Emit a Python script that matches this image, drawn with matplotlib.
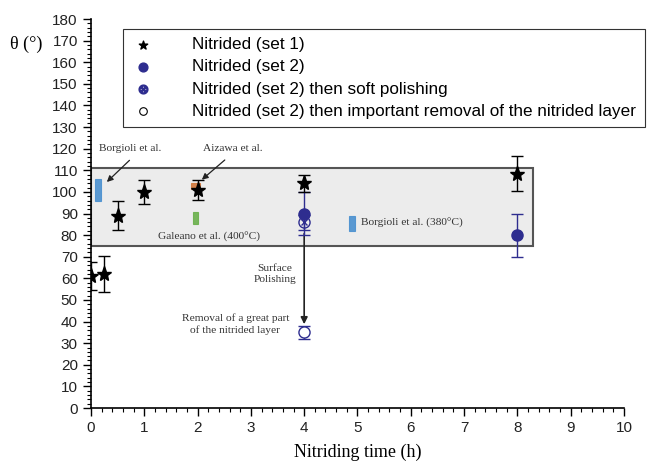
import matplotlib
matplotlib.use("Agg")
import matplotlib.pyplot as plt
from matplotlib.patches import Rectangle
from matplotlib.ticker import MultipleLocator

# nitrided set 1 (stars)
t_set1 = [0, 0.25, 0.5, 1, 2, 4, 8]
theta_set1 = [61, 62, 89, 100, 101, 104, 108.5]
err_set1 = [6.5, 8.5, 6.8, 5.4, 4.6, 4.0, 8.0]

# nitrided set 2 (filled circles)
t_set2 = [4, 8]
theta_set2 = [90, 80]
err_set2 = [10, 10]

# set 2 then soft polishing
t_soft = [4]
theta_soft = [86]
err_soft = [3.5]

# set 2 then removal of the nitrided layer
t_removal = [4]
theta_removal = [35]
err_removal = [3]

# literature ranges
lit_names = ["Borgioli", "Aizawa", "Galeano", "Borgioli380"]
lit_x = [(0.07, 0.18), (1.87, 2.05), (1.92, 2.01), (4.85, 4.95)]
lit_y = [(96, 106), (101.5, 104), (85, 90.5), (82, 89)]
lit_colors = ["#4a90d0", "#d2783c", "#6ab04c", "#4a90d0"]

# grey band of typical values
band_x = (0, 8.3)
band_y = (75, 111)

blue = "#2e2d8f"
serif = "Liberation Serif"
sans = "Liberation Sans"

fig = plt.figure(figsize=(6.67, 4.67), dpi=100)
ax = fig.add_axes([0.1364, 0.1263, 0.7991, 0.833])

ax.add_patch(Rectangle((band_x[0], band_y[0]), band_x[1] - band_x[0], band_y[1] - band_y[0],
                       facecolor="#ececec", edgecolor="#555555", lw=1.5, zorder=1))

for (x0, x1), (y0, y1), c in zip(lit_x, lit_y, lit_colors):
    ax.add_patch(Rectangle((x0, y0), x1 - x0, y1 - y0, facecolor=c,
                           edgecolor=c, lw=0.8, alpha=0.9, zorder=2))

# arrow for polishing
ax.annotate("", xy=(4, 37.5), xytext=(4, 82),
            arrowprops=dict(arrowstyle="-|>", color="#222222", lw=1.2,
                            mutation_scale=10), zorder=3)

ax.errorbar(t_set2, theta_set2, yerr=err_set2, fmt="o", color=blue, ms=8,
            ecolor=blue, elinewidth=1, capsize=4, zorder=4)
ax.errorbar(t_soft, theta_soft, yerr=err_soft, fmt="o", color=blue, ms=8,
            mfc="none", mec=blue, ecolor=blue, elinewidth=1, capsize=4, zorder=4)
ax.plot(t_soft, theta_soft, "x", color=blue, ms=5, mew=1, zorder=5)
ax.errorbar(t_removal, theta_removal, yerr=err_removal, fmt="o", color=blue, ms=8,
            mfc="white", mec=blue, ecolor=blue, elinewidth=1, capsize=4, zorder=4)
ax.errorbar(t_set1, theta_set1, yerr=err_set1, fmt="*", color="black", ms=11,
            ecolor="black", elinewidth=1, capsize=4, zorder=5)

# legend proxies
h1 = ax.scatter([], [], marker="*", color="black", s=40)
h2 = ax.scatter([], [], marker="o", color=blue, s=40)
h3 = ax.scatter([], [], marker="$\\otimes$", color=blue, s=40)
h4 = ax.scatter([], [], marker="o", facecolor="white", edgecolor="black", s=30, lw=0.8)
leg = ax.legend([h1, h2, h3, h4],
                ["Nitrided (set 1)", "Nitrided (set 2)", "Nitrided (set 2) then soft polishing",
                 "Nitrided (set 2) then important removal of the nitrided layer"],
                loc="upper left", bbox_to_anchor=(0.06, 0.975), fancybox=False,
                framealpha=1, edgecolor="#333333", prop={"family": sans, "size": 12.3},
                handletextpad=2.15, labelspacing=0.42, borderpad=0.5, borderaxespad=0,
                handlelength=1.4)
leg.get_frame().set_linewidth(0.8)
leg.set_zorder(6)

txt = dict(family=serif, fontsize=8.2, color="#333333")
ax.text(0.73, 120, "Borgioli et al.", ha="center", va="center", **txt)
ax.text(2.66, 120, "Aizawa et al.", ha="center", va="center", **txt)
ax.text(1.26, 79, "Galeano et al. (400\u00b0C)", ha="left", va="center", **txt)
ax.text(5.07, 85.5, "Borgioli et al. (380\u00b0C)", ha="left", va="center", **txt)
ax.text(3.45, 62, "Surface\nPolishing", ha="center", va="center", linespacing=1.3, **txt)
ax.text(2.71, 39, "Removal of a great part\nof the nitrided layer", ha="center",
        va="center", linespacing=1.3, **txt)

arrow = dict(arrowstyle="-|>", color="#222222", lw=0.9, mutation_scale=9)
ax.annotate("", xy=(0.26, 103.7), xytext=(0.76, 115.5), arrowprops=arrow)
ax.annotate("", xy=(2.04, 104.8), xytext=(2.55, 115.6), arrowprops=arrow)

ax.set_xlim(0, 10)
ax.set_ylim(0, 180)
ax.xaxis.set_major_locator(MultipleLocator(1))
ax.xaxis.set_minor_locator(MultipleLocator(0.2))
ax.yaxis.set_major_locator(MultipleLocator(10))
ax.yaxis.set_minor_locator(MultipleLocator(2))
ax.tick_params(which="major", length=6, width=1, direction="out", labelsize=11)
ax.tick_params(which="minor", length=3, width=0.8, direction="out")
for lab in ax.get_xticklabels() + ax.get_yticklabels():
    lab.set_family(sans)
    lab.set_color("#222222")
for s in ["top", "right"]:
    ax.spines[s].set_visible(False)
for s in ["left", "bottom"]:
    ax.spines[s].set_linewidth(1.2)

ax.set_xlabel("Nitriding time (h)", family=serif, fontsize=13, labelpad=6)
fig.text(0.015, 0.905, "\u03b8 (\u00b0)", family=serif, fontsize=13, ha="left", va="center")

fig.savefig("out.png", dpi=100)
